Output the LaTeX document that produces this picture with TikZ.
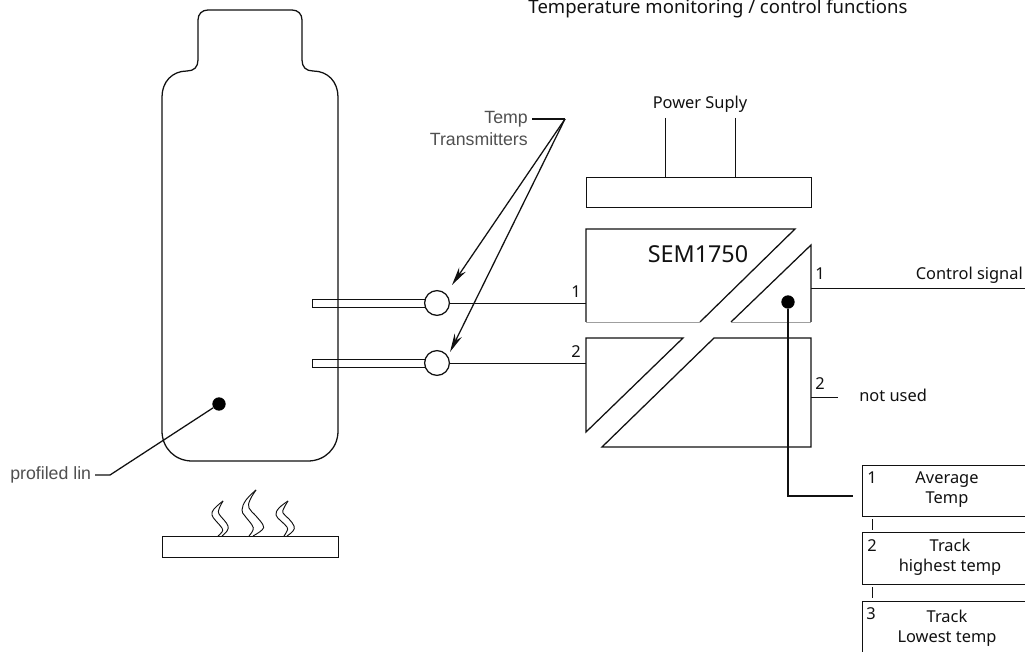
\documentclass[tikz,border=0pt]{standalone}
\usepackage{fontspec}
\setmainfont{Noto Sans}
\newfontfamily\arialf{Liberation Sans}
\usetikzlibrary{arrows.meta,calc}
\definecolor{ink}{HTML}{111111}
\definecolor{lbl}{HTML}{505050}
\tikzset{
  x=0.75pt,y=-0.75pt,
  line/.style={draw=ink,line width=0.95pt},
  thinline/.style={draw=ink,line width=0.7pt},
  lbltext/.style={font=\fontsize{12.3}{15}\selectfont,text=ink,inner sep=0pt},
  titletext/.style={font=\fontsize{13.9}{15}\selectfont,text=ink,inner sep=0pt},
  alabel/.style={font=\arialf\fontsize{13.3}{15}\selectfont,text=lbl,inner sep=0pt},
  circ/.style={circle,line,fill=white,minimum size=18.6pt,inner sep=0pt},
  blob/.style={circle,fill=black,minimum size=10pt,inner sep=0pt},
  boxx/.style={rectangle,line,inner sep=0pt,anchor=north west},
  menu/.style={boxx,minimum width=124pt},
  menutext/.style={anchor=center,align=center,font=\fontsize{12.3}{15}\selectfont,text=ink,inner sep=0pt},
  arr/.style={line,-{Stealth[length=14pt,width=6pt]}},
  flame/.style={thinline,line join=round},
}
\begin{document}
\begin{tikzpicture}
\useasboundingbox (0,0) rectangle (1025,652);
\clip (0,0) rectangle (1025,652);
\fill[white] (0,0) rectangle (1025,652);

% title
\node[titletext,anchor=base] (title) at (718,14) {Temperature monitoring / control functions};

% bottle
\draw[line,line join=round] (208,10) -- (292,10) .. controls (298,10) and (302,14) .. (302,20)
  -- (302,60) .. controls (302,67) and (306,71) .. (313,71)
  .. controls (328,71) and (338,82) .. (338,97)
  -- (338,431) .. controls (338,448) and (325,461) .. (308,461)
  -- (192,461) .. controls (175,461) and (162,448) .. (162,431)
  -- (162,97) .. controls (162,82) and (172,71) .. (187,71)
  .. controls (194,71) and (198,67) .. (198,60)
  -- (198,20) .. controls (198,14) and (202,10) .. (208,10) -- cycle;

% heater and flames
\node[boxx,minimum width=132pt,minimum height=15.5pt] (heater) at (162,536) {};
\draw[flame] plot[smooth,tension=0.7] coordinates {(218,536) (222,532) (222,528) (216,521) (212,515) (214,509) (223,501)};
\draw[flame] plot[smooth,tension=0.7] coordinates {(222,536) (227,531) (228,526) (224,520) (219,514) (219,509) (223,501)};
\draw[flame] plot[smooth,tension=0.7] coordinates {(249,536) (253,530) (252,525) (245,516) (242,510) (246,500) (256,490)};
\draw[flame] plot[smooth,tension=0.7] coordinates {(253,536) (262,530) (263,525) (256,516) (249,508) (250,500) (256,490)};
\draw[flame] plot[smooth,tension=0.7] coordinates {(284,536) (287,531) (287,527) (281,521) (276,515) (279,508) (288,501)};
\draw[flame] plot[smooth,tension=0.7] coordinates {(287,536) (293,531) (294,526) (289,519) (283,513) (284,508) (288,501)};

% probes
\node[boxx,minimum width=84.75pt,minimum height=6pt] (p1) at (312,299) {};
\node[boxx,minimum width=84.75pt,minimum height=6pt] (p2) at (312,359) {};
\node[circ] (ta) at (437,303) {};
\node[circ] (tb) at (437,363) {};

% power supply
\node[boxx,minimum width=168.75pt,minimum height=22.5pt] (psu) at (586,177) {};
\coordinate (psa) at (665,118);
\coordinate (psb) at (735,118);
\draw[thinline] (psa) -- (psa |- psu.north);
\draw[thinline] (psb) -- (psb |- psu.north);
\node[lbltext,anchor=center] (pstext) at (700,104) {Power Suply};

% converter
\draw[line,line join=miter] (586,322) -- (586,229) -- (795,229) -- (700,322);
\draw[line,line join=miter] (731,322) -- (811,245) -- (811,322);
\draw[draw=gray!75,line width=0.6pt] (586,322) -- (700,322) (731,322) -- (811,322);
\draw[line,line join=miter] (683,338) -- (586,338) -- (586,432) -- cycle;
\draw[line,line join=miter] (714,338) -- (811,338) -- (811,447) -- (602,447) -- cycle;
\node[anchor=center,inner sep=0pt,font=\fontsize{17.5}{20}\selectfont,text=ink] (sem) at (698,254) {SEM1750};

% input lines
\coordinate (in1) at (586,303);
\coordinate (in2) at (586,363);
\draw[thinline] (ta) -- (in1);
\draw[thinline] (tb) -- (in2);
\node[lbltext,anchor=center] (n1) at (576,292) {1};
\node[lbltext,anchor=center] (n2) at (576,352) {2};

% outputs
\coordinate (o1a) at (811,288);
\coordinate (o1b) at (1025,288);
\coordinate (o2a) at (811,397);
\coordinate (o2b) at (838,397);
\draw[thinline] (o1a) -- (o1b);
\draw[thinline] (o2a) -- (o2b);
\node[lbltext,anchor=center] (m1) at (820,274) {1};
\node[lbltext,anchor=center] (m2) at (820,384) {2};
\node[lbltext,anchor=east] (ctrl) at (1023,275) {Control signal};
\node[lbltext,anchor=west] (nu) at (859,395) {not used};

% selector menu
\node[menu,minimum height=38.25pt] (b1) at (862,465) {};
\node[menu,minimum height=39pt] (b2) at (862,532) {};
\node[menu,minimum height=52pt] (b3) at (862,601) {};
\node[lbltext,anchor=center] (b1n) at (872,478) {1};
\node[lbltext,anchor=center] (b2n) at (872,546) {2};
\node[lbltext,anchor=center] (b3n) at (871,614) {3};
\node[menutext] (b1t) at (947,490) {Average\\Temp};
\node[menutext] (b2t) at (950,557) {Track\\highest temp};
\node[menutext] (b3t) at (947,628) {Track\\Lowest temp};
\coordinate (t1a) at (872,519);
\coordinate (t1b) at (872,530);
\coordinate (t2a) at (872,587);
\coordinate (t2b) at (872,598);
\draw[thinline] (t1a) -- (t1b);
\draw[thinline] (t2a) -- (t2b);

% dot to menu
\node[blob] (d1) at (788,302) {};
\coordinate (bend) at (788,496);
\coordinate (bend2) at (853,496);
\draw[line] (d1) -- (bend) -- (bend2);

% temp transmitters callout
\node[alabel,anchor=east] (tt1) at (528,119) {Temp};
\node[alabel,anchor=east] (tt2) at (528,139) {Transmitters};
\coordinate (hub) at (565,119);
\draw[line] (532,119) -- (hub);
\coordinate (h1) at (452,285);
\coordinate (h2) at (450,352);
\draw[arr] (hub) -- (h1);
\draw[arr] (hub) -- (h2);

% profiled lin
\node[alabel,anchor=west] (pl) at (10,475) {profiled lin};
\node[blob] (d2) at (219,404) {};
\draw[line] (95,475) -- (110,475) -- (d2);
\end{tikzpicture}
\end{document}
